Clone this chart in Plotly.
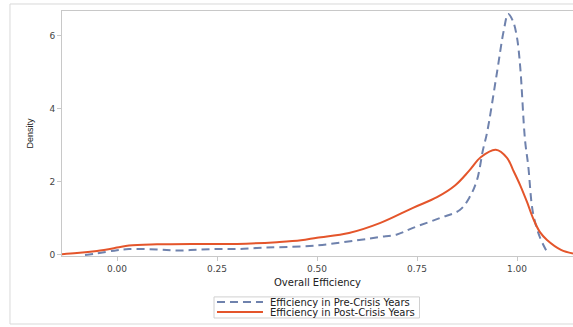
import plotly.graph_objects as go

# density curves
pre_x = [-0.08, -0.05, 0.0, 0.03, 0.1, 0.15, 0.2, 0.25, 0.3, 0.35, 0.4, 0.5, 0.6,
         0.657, 0.7, 0.74, 0.807, 0.857, 0.882, 0.9, 0.915, 0.925, 0.95, 0.967,
         0.978, 0.99, 1.0, 1.008, 1.02, 1.028, 1.04, 1.057, 1.075]
pre_y = [0.0, 0.04, 0.13, 0.16, 0.15, 0.12, 0.14, 0.16, 0.16, 0.19, 0.21, 0.26, 0.4,
         0.49, 0.56, 0.74, 1.01, 1.23, 1.59, 2.05, 2.88, 3.34, 5.0, 6.15,
         6.6, 6.4, 5.95, 5.15, 3.15, 2.45, 1.15, 0.49, 0.08]

post_x = [-0.1375, -0.1, -0.05, 0.0, 0.03, 0.1, 0.2, 0.3, 0.4, 0.46, 0.5, 0.58,
          0.657, 0.74, 0.8, 0.845, 0.88, 0.91, 0.947, 0.975, 0.99, 1.0075, 1.025,
          1.04, 1.057, 1.075, 1.11, 1.14]
post_y = [0.02, 0.05, 0.11, 0.2, 0.26, 0.29, 0.3, 0.3, 0.35, 0.4, 0.47, 0.6,
          0.87, 1.29, 1.58, 1.9, 2.3, 2.68, 2.88, 2.66, 2.33, 1.92, 1.45,
          1.01, 0.63, 0.41, 0.14, 0.04]

x_ticks = [0.0, 0.25, 0.5, 0.75, 1.0]
x_labels = ["0.00", "0.25", "0.50", "0.75", "1.00"]
y_ticks = [0, 2, 4, 6]

series_names = ["Efficiency in Pre-Crisis Years", "Efficiency in Post-Crisis Years"]

PRE_COLOR = "#6f82ad"
POST_COLOR = "#e4552b"
PRE_DASH = "8px,5px"
WIDE = "DejaVu Sans, sans-serif"
NARROW = "Liberation Sans, Arial, sans-serif"

fig = go.Figure()
fig.add_trace(go.Scatter(
    x=pre_x, y=pre_y, mode="lines", name=series_names[0], showlegend=False,
    line=dict(color=PRE_COLOR, width=2, dash=PRE_DASH, shape="spline", smoothing=1.0),
))
fig.add_trace(go.Scatter(
    x=post_x, y=post_y, mode="lines", name=series_names[1], showlegend=False,
    line=dict(color=POST_COLOR, width=2, shape="spline", smoothing=1.0),
))

# outer frame of the graph
fig.add_shape(type="rect", xref="paper", yref="paper",
              x0=-0.1018, x1=1.02, y0=-0.2776, y1=1.0286,
              line=dict(color="#d9d9d9", width=1), layer="below")

# legend drawn by hand so it stays as compact as the original
fig.add_shape(type="rect", xref="paper", yref="paper",
              x0=0.2975, x1=0.6996, y0=-0.253, y1=-0.167,
              line=dict(color="#d0d0d0", width=1), fillcolor="white")
for i, (name, color, dash) in enumerate(zip(series_names, [PRE_COLOR, POST_COLOR],
                                            [PRE_DASH, "solid"])):
    yy = -0.188 - i * 0.041
    fig.add_shape(type="line", xref="paper", yref="paper",
                  x0=0.3033, x1=0.3933, y0=yy, y1=yy,
                  line=dict(color=color, width=2, dash=dash))
    fig.add_annotation(xref="paper", yref="paper", x=0.403, y=yy,
                       xanchor="left", yanchor="middle", text=name, showarrow=False,
                       font=dict(size=10, color="#222", family=WIDE))

axis_common = dict(showline=True, linecolor="#c8c8c8", linewidth=1,
                   ticks="outside", ticklen=4, tickcolor="#c8c8c8",
                   showgrid=False, zeroline=False, automargin=False,
                   tickfont=dict(size=9, color="#444", family=WIDE))

fig.update_xaxes(axis_common, range=[-0.1375, 1.14], tickvals=x_ticks, ticktext=x_labels,
                 mirror=True, title=dict(text="Overall Efficiency", standoff=6,
                                         font=dict(size=10, color="#222", family=WIDE)))
fig.update_yaxes(axis_common, range=[-0.03, 6.68], tickvals=y_ticks,
                 title=dict(text="Density", standoff=14,
                            font=dict(size=9, color="#222", family=NARROW)))

fig.update_layout(
    width=573, height=327,
    margin=dict(l=62, r=0, t=11, b=71),
    plot_bgcolor="white", paper_bgcolor="white",
    font=dict(family=WIDE, size=9, color="#222"),
    showlegend=False,
)

# drop the page's default 8px body margin so the figure sits at the window corner
fig.write_html("out.html", config={"displayModeBar": False},
               post_script="document.body.style.margin='0';")
